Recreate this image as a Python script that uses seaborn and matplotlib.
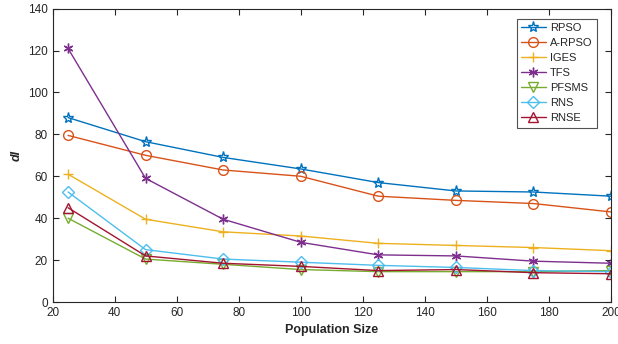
import matplotlib
matplotlib.use("Agg")
import matplotlib.pyplot as plt
import seaborn as sns
import pandas as pd

pop_sizes = [25, 50, 75, 100, 125, 150, 175, 200]
rpso = [88, 76.5, 69, 63.5, 57, 53, 52.5, 50.5]
a_rpso = [79.5, 70, 63, 60, 50.5, 48.5, 47, 43]
iges = [61, 39.5, 33.5, 31.5, 28, 27, 26, 24.5]
tfs = [121, 59, 39.5, 28.5, 22.5, 22, 19.5, 18.5]
pfsms = [40, 20.5, 18, 15.5, 14.5, 14.5, 14.5, 15]
rns = [52.5, 25, 20.5, 19, 17.5, 16.5, 15, 14.5]
rnse = [45, 22, 18.5, 17, 15, 15.5, 14, 13.5]

series_names = ["RPSO", "A-RPSO", "IGES", "TFS", "PFSMS", "RNS", "RNSE"]
series_values = [rpso, a_rpso, iges, tfs, pfsms, rns, rnse]
colors = ["#0072BD", "#D95319", "#EDB120", "#7E2F8E", "#77AC30", "#4DBEEE", "#A2142F"]
markers = ["*", "o", "+", (6, 2, 0), "v", "D", "^"]
msizes = [8, 7, 7, 7, 7, 6, 7]

rows = []
for name, vals in zip(series_names, series_values):
    for x, v in zip(pop_sizes, vals):
        rows.append({"Population Size": x, "dI": v, "Algorithm": name})
df = pd.DataFrame(rows)

sns.set_style("white")
plt.rcParams["font.family"] = ["Liberation Sans", "DejaVu Sans"]

fig = plt.figure(figsize=(6.18, 3.44), dpi=100)
ax = fig.add_axes([0.085, 0.122, 0.9035, 0.853])

for name, c, m, ms in zip(series_names, colors, markers, msizes):
    sub = df[df["Algorithm"] == name]
    filled = isinstance(m, tuple) or m == "+"
    sns.lineplot(data=sub, x="Population Size", y="dI", ax=ax, color=c,
                 marker=m, markersize=ms, linewidth=1.0, label=name,
                 markerfacecolor=c if filled else "none",
                 markeredgecolor=c, markeredgewidth=1.0, estimator=None)

ax.set_xlim(20, 200)
ax.set_ylim(0, 140)
ax.set_xticks(range(20, 201, 20))
ax.set_yticks(range(0, 141, 20))
ax.tick_params(direction="in", length=4, labelsize=8.5, colors="#262626",
               top=True, right=True, bottom=True, left=True, width=0.8)
for s in ax.spines.values():
    s.set_color("#262626")
    s.set_linewidth(0.8)
ax.set_xlabel("Population Size", fontsize=9, fontweight="bold", color="#262626")
ax.set_ylabel("dI", fontsize=9, fontweight="bold", style="italic", color="#262626")

leg = ax.legend(loc="upper right", bbox_to_anchor=(0.975, 0.965), fontsize=8,
                frameon=True, fancybox=False, edgecolor="#262626",
                handlelength=2.2, borderpad=0.4, labelspacing=0.45,
                handletextpad=0.4, borderaxespad=0)
leg.get_frame().set_linewidth(0.8)

fig.savefig("out.png", dpi=100)
